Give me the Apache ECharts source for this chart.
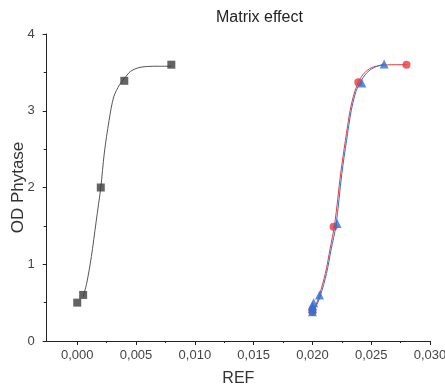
<!DOCTYPE html>
<html>
<head>
<meta charset="utf-8">
<script src="https://cdn.jsdelivr.net/npm/echarts@6/dist/echarts.min.js"></script>
<style>
  html, body { margin: 0; padding: 0; background: #fff; }
  #chart { width: 445px; height: 385px; }
</style>
</head>
<body>
<div id="chart"></div>
<script>
// Measured points
const refPoints = [[0.0000, 0.50], [0.0005, 0.60], [0.0020, 2.00], [0.0040, 3.39], [0.0080, 3.60]];
const redPoints = [[0.0200, 0.38], [0.0200, 0.41], [0.0218, 1.49], [0.0239, 3.37], [0.0280, 3.60]];
const bluePoints = [[0.0200, 0.38], [0.0200, 0.42], [0.0200, 0.46], [0.0201, 0.50], [0.0206, 0.60],
                    [0.0221, 1.53], [0.0242, 3.36], [0.0261, 3.61]];

// Fitted sigmoid curves
const refFit = [[0.0005, 0.58], [0.0008, 0.75], [0.0012, 1.10], [0.0016, 1.55], [0.0020, 2.00],
                [0.0023, 2.45], [0.0027, 2.87], [0.0031, 3.18], [0.0036, 3.34], [0.0040, 3.42],
                [0.0045, 3.51], [0.0050, 3.55], [0.0055, 3.57], [0.0065, 3.58], [0.0080, 3.58]];
const redFit = [[0.0200, 0.38], [0.0203, 0.47], [0.0206, 0.60], [0.0211, 0.88], [0.0215, 1.20],
                [0.0219, 1.53], [0.0224, 2.18], [0.0228, 2.61], [0.0232, 3.00], [0.0236, 3.25],
                [0.0240, 3.40], [0.0244, 3.49], [0.0250, 3.56], [0.0258, 3.59], [0.0270, 3.60],
                [0.0280, 3.60]];
const blueFit = [[0.0200, 0.38], [0.0204, 0.48], [0.0207, 0.60], [0.0212, 0.88], [0.0216, 1.20],
                 [0.0220, 1.50], [0.0225, 2.18], [0.0229, 2.61], [0.0233, 3.00], [0.0237, 3.25],
                 [0.0241, 3.38], [0.0246, 3.49], [0.0252, 3.56], [0.0261, 3.61]];

// Axis ticks
const xMajorTicks = [0, 0.005, 0.010, 0.015, 0.020, 0.025, 0.030];
const xMinorTicks = [0.0025, 0.0075, 0.0125, 0.0175, 0.0225, 0.0275];
const xMin = -0.0026, xMax = 0.030;

const font = 'Liberation Sans, Arial, sans-serif';
const chart = echarts.init(document.getElementById('chart'), null, { renderer: 'canvas' });

const lineSeries = (data, color) => ({
  type: 'line', data, smooth: 0.3, showSymbol: false, silent: true,
  lineStyle: { color, width: 1 }, z: 1
});

chart.setOption({
  animation: false,
  title: {
    text: 'Matrix effect', left: 211, top: 5,
    textStyle: { fontFamily: font, fontSize: 16, fontWeight: 'normal', color: '#222' }
  },
  grid: { left: 46.7, right: 15, top: 34, bottom: 44, outerBoundsMode: 'none', containLabel: false },
  xAxis: [{
    type: 'value', min: xMin, max: xMax,
    name: 'REF', nameLocation: 'middle', nameGap: 30, nameMoveOverlap: false,
    nameTextStyle: { fontFamily: font, fontSize: 16, color: '#333' },
    axisLine: { onZero: false, lineStyle: { color: '#222', width: 1 } },
    axisTick: { customValues: xMajorTicks, length: 4, lineStyle: { color: '#222' } },
    axisLabel: {
      customValues: xMajorTicks, margin: 8, fontFamily: font, fontSize: 13, color: '#444',
      formatter: v => v.toFixed(3).replace('.', ',')
    },
    splitLine: { show: false }
  }, {
    type: 'value', min: xMin, max: xMax, position: 'bottom', gridIndex: 0,
    axisLine: { show: false, onZero: false },
    axisTick: { customValues: xMinorTicks, length: 2, lineStyle: { color: '#222' } },
    axisLabel: { show: false },
    splitLine: { show: false }
  }],
  yAxis: {
    type: 'value', min: 0, max: 4, interval: 1,
    name: 'OD Phytase', nameLocation: 'middle', nameGap: 20, nameMoveOverlap: false,
    nameTextStyle: { fontFamily: font, fontSize: 17, color: '#333' },
    axisLine: { show: true, onZero: false, lineStyle: { color: '#222', width: 1 } },
    axisTick: { show: true, length: 4, lineStyle: { color: '#222' } },
    minorTick: { show: true, splitNumber: 2, length: 3, lineStyle: { color: '#222' } },
    axisLabel: { margin: 12, fontFamily: font, fontSize: 13, color: '#444' },
    splitLine: { show: false }
  },
  series: [
    lineSeries(refFit, '#555555'),
    lineSeries(redFit, '#e8383d'),
    lineSeries(blueFit, '#2f6fd6'),
    { type: 'scatter', data: refPoints, symbol: 'rect', symbolSize: 8,
      itemStyle: { color: '#3d3d3d' }, z: 3 },
    { type: 'scatter', data: redPoints, symbol: 'circle', symbolSize: 8,
      itemStyle: { color: '#e8383d' }, z: 3 },
    { type: 'scatter', data: bluePoints, symbol: 'triangle', symbolSize: 9,
      itemStyle: { color: '#2f6fd6' }, z: 4 }
  ]
});
</script>
</body>
</html>
